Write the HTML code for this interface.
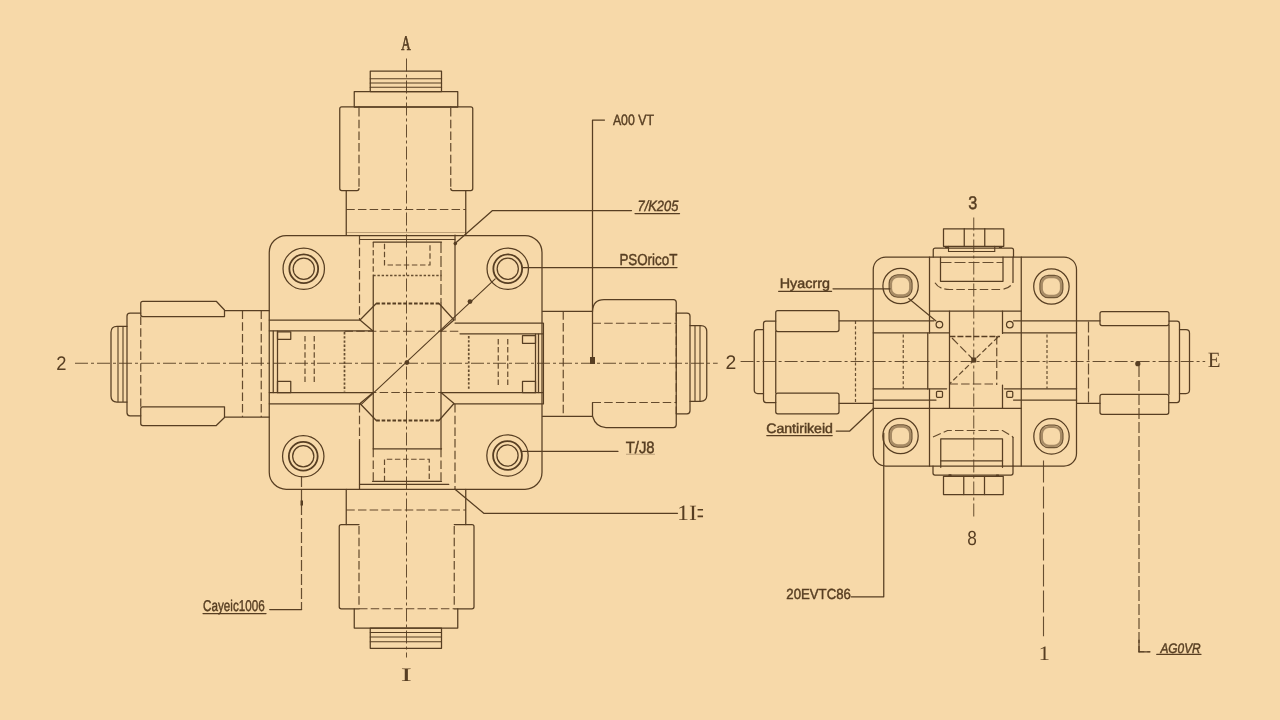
<!DOCTYPE html>
<html lang="en">
<head>
<meta charset="utf-8">
<title>Valve body – technical drawing</title>
<style>
html,body{margin:0;padding:0;background:#f7d9a9;}
body{width:1280px;height:720px;overflow:hidden;position:relative;}
svg{display:block;position:absolute;left:0;top:0;}
#labels{filter:blur(.3px);}
.s{fill:none;stroke:#573e22;stroke-width:1.25;stroke-linecap:round;stroke-linejoin:round;}
.t{fill:none;stroke:#573e22;stroke-width:1.1;stroke-linecap:round;}
.b{fill:none;stroke:#573e22;stroke-width:1.8;}
.f{fill:none;stroke:#573e22;stroke-width:.8;stroke-opacity:.45;}
.d{fill:none;stroke:#573e22;stroke-width:1.2;stroke-dasharray:8.5 3.2;stroke-opacity:.92;}
.dl{fill:none;stroke:#573e22;stroke-width:1.2;stroke-dasharray:11 3;stroke-opacity:.9;}
.dk{fill:none;stroke:#573e22;stroke-width:1.9;stroke-dasharray:3.6 1.8;}
.dot{fill:none;stroke:#573e22;stroke-width:1.7;stroke-dasharray:2.4 1.8;stroke-opacity:.9;}
.c{fill:none;stroke:#573e22;stroke-width:1;stroke-dasharray:13 3 3 3;stroke-opacity:.9;}
.ds{fill:none;stroke:#573e22;stroke-width:1.2;stroke-dasharray:5.5 2.6;stroke-opacity:.92;}
.k{fill:#573e22;stroke:none;}
.dm{fill:none;stroke:#573e22;stroke-width:1.5;stroke-dasharray:6 2;}
.dot2{fill:none;stroke:#573e22;stroke-width:1.2;stroke-dasharray:3 2.2;stroke-opacity:.9;}
.dx{fill:none;stroke:#573e22;stroke-width:1.1;stroke-dasharray:22 4;stroke-opacity:.9;}
.ring{fill:none;stroke:#573e22;stroke-width:1.3;stroke-opacity:.85;}
.ring2{fill:none;stroke:#573e22;stroke-width:2.2;stroke-opacity:.5;}
text{fill:#573e22;stroke:#573e22;stroke-width:.45;text-rendering:geometricPrecision;}
.it{font-style:italic;}
.lt{stroke-width:0;}
.bd{stroke-width:.7;}
.sans{font-family:"Liberation Sans",sans-serif;}
.serif{font-family:"Liberation Serif",serif;}
</style>
</head>
<body>
<svg width="1280" height="720" viewBox="0 0 1280 720" role="img" aria-label="Technical drawing of a valve body: plan view and side view">
<rect class="bg" x="0" y="0" width="1280" height="720" fill="#f7d9a9"/>
<g id="drawing">
<g id="left-view">
<line class="c" x1="406.5" y1="58.5" x2="406.5" y2="657.5"/>
<line class="c" x1="75" y1="363.25" x2="717.7" y2="363.25"/>
<rect class="s" x="370.25" y="71.0" width="71.25" height="20.5" rx="0"/>
<line class="t" x1="370.2" y1="78.75" x2="441.6" y2="78.75"/>
<line class="t" x1="370.2" y1="83.0" x2="441.6" y2="83.0"/>
<line class="t" x1="370.2" y1="87.25" x2="441.6" y2="87.25"/>
<rect class="s" x="354.25" y="91.5" width="103.5" height="15.5" rx="0"/>
<path class="s" d="M 359.0 106.75 H 341.75 Q 339.75 106.75 339.75 108.75 V 188.5 Q 339.75 190.5 341.75 190.5 H 357.0 Q 359.0 190.5 359.0 188.5"/>
<path class="s" d="M 450.75 106.75 H 470.75 Q 472.75 106.75 472.75 108.75 V 188.5 Q 472.75 190.5 470.75 190.5 H 452.75 Q 450.75 190.5 450.75 188.5"/>
<line class="s" x1="359" y1="106.75" x2="450.75" y2="106.75"/>
<line class="d" x1="359.0" y1="108" x2="359.0" y2="189"/>
<line class="d" x1="450.75" y1="108" x2="450.75" y2="189"/>
<line class="s" x1="346.25" y1="190.5" x2="346.25" y2="235"/>
<line class="s" x1="465.75" y1="190.5" x2="465.75" y2="235"/>
<line class="d" x1="346.25" y1="209.5" x2="465.75" y2="209.5"/>
<line class="f" x1="346.25" y1="232.5" x2="465.75" y2="232.5"/>
<rect class="s" x="269.25" y="235.5" width="272.75" height="253.75" rx="17"/>
<circle class="s" cx="303.75" cy="268.75" r="20.7"/>
<circle class="b" cx="303.75" cy="268.75" r="14.4"/>
<circle class="s" cx="303.75" cy="268.75" r="10.6"/>
<circle class="s" cx="507.75" cy="268.75" r="20.7"/>
<circle class="b" cx="507.75" cy="268.75" r="14.4"/>
<circle class="s" cx="507.75" cy="268.75" r="10.6"/>
<circle class="s" cx="303.25" cy="456.25" r="20.7"/>
<circle class="b" cx="303.25" cy="456.25" r="14.4"/>
<circle class="s" cx="303.25" cy="456.25" r="10.6"/>
<circle class="s" cx="507.5" cy="455.5" r="20.7"/>
<circle class="b" cx="507.5" cy="455.5" r="14.4"/>
<circle class="s" cx="507.5" cy="455.5" r="10.6"/>
<line class="s" x1="373.25" y1="276" x2="373.25" y2="448.75"/>
<line class="s" x1="441.0" y1="303" x2="441.0" y2="448.75"/>
<line class="ds" x1="373.25" y1="242" x2="373.25" y2="276"/>
<line class="dl" x1="441.0" y1="242" x2="441.0" y2="303"/>
<line class="t" x1="360" y1="239.5" x2="455" y2="239.5"/>
<line class="s" x1="373.25" y1="242.0" x2="441.5" y2="242.0"/>
<path class="ds" d="M 384.5 243.75 V 265.0 H 430.0 V 243.75"/>
<line class="dot" x1="373.25" y1="275.5" x2="441.5" y2="275.5"/>
<line class="d" x1="359.5" y1="236" x2="359.5" y2="320"/>
<line class="s" x1="455.0" y1="235" x2="455.0" y2="320"/>
<line class="dk" x1="376.25" y1="303.5" x2="439" y2="303.5"/>
<path class="s" d="M 376.25 303.5 L 360.0 320.0 L 373.25 331.25"/>
<path class="s" d="M 439.0 303.5 L 454.0 320.0 L 441.0 331.25"/>
<path class="s" d="M 373.25 392.5 L 360.0 403.5 L 376.25 420.5"/>
<path class="s" d="M 441.0 392.5 L 454.0 403.5 L 439.0 420.5"/>
<line class="dk" x1="376.25" y1="420.5" x2="439" y2="420.5"/>
<line class="s" x1="269.25" y1="320.0" x2="360" y2="320.0"/>
<line class="s" x1="269.25" y1="330.75" x2="373.25" y2="330.75"/>
<line class="s" x1="455" y1="323.0" x2="542.5" y2="323.0"/>
<line class="s" x1="460" y1="333.75" x2="542.5" y2="333.75"/>
<line class="s" x1="269.25" y1="392.5" x2="373.25" y2="392.5"/>
<line class="s" x1="269.25" y1="403.75" x2="360" y2="403.75"/>
<line class="s" x1="441" y1="392.5" x2="542.5" y2="392.5"/>
<line class="s" x1="454" y1="403.75" x2="542.5" y2="403.75"/>
<line class="d" x1="344.5" y1="331.25" x2="460" y2="331.25"/>
<line class="d" x1="344.5" y1="392.5" x2="468" y2="392.5"/>
<line class="dot" x1="344.5" y1="332" x2="344.5" y2="391.5"/>
<line class="dot" x1="468.75" y1="336" x2="468.75" y2="390.5"/>
<line class="s" x1="273.25" y1="331" x2="273.25" y2="392.5"/>
<line class="s" x1="277.5" y1="331" x2="277.5" y2="392.5"/>
<rect class="s" x="277.5" y="331.75" width="13.25" height="7.5" rx="0"/>
<rect class="s" x="277.5" y="381.25" width="13.25" height="11.25" rx="0"/>
<line class="s" x1="535.5" y1="334" x2="535.5" y2="392.5"/>
<line class="s" x1="538.5" y1="334" x2="538.5" y2="392.5"/>
<line class="t" x1="543.5" y1="323" x2="543.5" y2="404"/>
<rect class="s" x="522.5" y="335.5" width="13.0" height="7.75" rx="0"/>
<rect class="s" x="522.5" y="381.25" width="13.0" height="11.25" rx="0"/>
<line class="ds" x1="305.0" y1="336" x2="305.0" y2="384"/>
<line class="ds" x1="314.25" y1="336" x2="314.25" y2="384"/>
<line class="ds" x1="498.25" y1="339" x2="498.25" y2="385.5"/>
<line class="ds" x1="507.75" y1="339" x2="507.75" y2="385.5"/>
<line class="d" x1="359.5" y1="404" x2="359.5" y2="441"/>
<line class="s" x1="359.5" y1="441" x2="359.5" y2="489.25"/>
<line class="d" x1="455.0" y1="404" x2="455.0" y2="489.25"/>
<line class="s" x1="373.25" y1="448.75" x2="441.5" y2="448.75"/>
<line class="d" x1="373.25" y1="448.75" x2="373.25" y2="481.25"/>
<line class="d" x1="441.0" y1="448.75" x2="441.0" y2="481.25"/>
<path class="ds" d="M 384.5 481.25 V 459.25 H 429.25 V 481.25"/>
<line class="s" x1="372.5" y1="481.25" x2="441.5" y2="481.25"/>
<line class="s" x1="359.5" y1="484.25" x2="448.75" y2="484.25"/>
<line class="t" x1="495.2" y1="278.8" x2="361.3" y2="404.4"/>
<circle class="k" cx="470" cy="301.6" r="2.4"/>
<circle class="k" cx="406.9" cy="362.6" r="2.4"/>
<line class="s" x1="346.25" y1="489.25" x2="346.25" y2="524.5"/>
<line class="s" x1="465.75" y1="489.25" x2="465.75" y2="524.5"/>
<line class="d" x1="346.25" y1="510.0" x2="465.75" y2="510.0"/>
<path class="s" d="M 359.0 524.5 H 341.25 Q 339.25 524.5 339.25 526.5 V 606.75 Q 339.25 608.75 341.25 608.75 H 359.0"/>
<path class="s" d="M 454.25 524.5 H 472.0 Q 474.0 524.5 474.0 526.5 V 606.75 Q 474.0 608.75 472.0 608.75 H 454.25"/>
<line class="d" x1="359.0" y1="526" x2="359.0" y2="608"/>
<line class="d" x1="454.25" y1="526" x2="454.25" y2="608"/>
<line class="d" x1="359" y1="608.75" x2="454.25" y2="608.75"/>
<path class="s" d="M 354.25 608.75 V 628.0 H 457.75 V 608.75"/>
<rect class="s" x="370.25" y="628.0" width="71.25" height="20.25" rx="0"/>
<line class="t" x1="370.25" y1="632.5" x2="441.5" y2="632.5"/>
<line class="t" x1="370.25" y1="637.0" x2="441.5" y2="637.0"/>
<line class="t" x1="370.25" y1="641.75" x2="441.5" y2="641.75"/>
<path class="s" d="M 127.0 326.25 H 117.0 Q 111.0 326.25 111.0 332.25 V 396.0 Q 111.0 402.0 117.0 402.0 H 127.0"/>
<line class="t" x1="118.0" y1="326.5" x2="118.0" y2="401.5"/>
<line class="t" x1="123.0" y1="326.5" x2="123.0" y2="401.5"/>
<path class="s" d="M 140.75 313.0 H 130.0 Q 127.0 313.0 127.0 316.0 V 412.75 Q 127.0 415.75 130.0 415.75 H 140.75"/>
<path class="s" d="M 224.5 316.5 H 142.75 Q 140.75 316.5 140.75 314.5 V 303.25 Q 140.75 301.25 142.75 301.25 H 216.25 L 224.5 310.0 Z"/>
<path class="s" d="M 224.5 406.75 H 142.75 Q 140.75 406.75 140.75 408.75 V 423.5 Q 140.75 425.5 142.75 425.5 H 216.25 L 224.5 417.5 Z"/>
<line class="s" x1="224.5" y1="310.5" x2="269.25" y2="310.5"/>
<line class="s" x1="224.5" y1="417.0" x2="269.25" y2="417.0"/>
<line class="d" x1="140.75" y1="316.5" x2="140.75" y2="406.75"/>
<line class="d" x1="242.5" y1="310.5" x2="242.5" y2="417"/>
<line class="d" x1="261.25" y1="310.5" x2="261.25" y2="417"/>
<line class="s" x1="542.5" y1="311.25" x2="592.5" y2="311.25"/>
<line class="s" x1="542.5" y1="416.25" x2="592.5" y2="416.25"/>
<line class="d" x1="563.25" y1="311.25" x2="563.25" y2="416.25"/>
<path class="s" d="M 592.5 311.25 Q 593.0 299.5 604.0 299.5 H 673.5 Q 676.25 299.5 676.25 302.5 V 424.5 Q 676.25 427.5 673.5 427.5 H 606.0 Q 596.0 427.5 592.5 416.25 V 402.5"/>
<line class="d" x1="592.5" y1="323.25" x2="676.25" y2="323.25"/>
<line class="d" x1="592.5" y1="402.5" x2="676.25" y2="402.5"/>
<line class="d" x1="676.25" y1="313" x2="676.25" y2="413.75"/>
<path class="s" d="M 676.25 313.0 H 687.0 Q 690.0 313.0 690.0 316.0 V 410.75 Q 690.0 413.75 687.0 413.75 H 676.25"/>
<path class="s" d="M 690.0 325.5 H 700.75 Q 706.75 325.5 706.75 331.5 V 395.25 Q 706.75 401.25 700.75 401.25 H 690.0"/>
<line class="t" x1="695.0" y1="326" x2="695.0" y2="401"/>
<line class="t" x1="700.0" y1="326" x2="700.0" y2="401"/>
<path class="s" d="M 604.5 120.0 H 592.5 V 357.0"/>
<rect class="k" x="590.0" y="357.0" width="5.0" height="7.0" rx="0"/>
<path class="s" d="M 455.0 243.5 L 492.5 210.5 H 631.5"/>
<circle class="k" cx="455.3" cy="243.6" r="1.8"/>
<line class="s" x1="523" y1="267.5" x2="677" y2="267.5"/>
<line class="s" x1="635" y1="213.5" x2="679.5" y2="213.5"/>
<line class="s" x1="522.5" y1="451.25" x2="618" y2="451.25"/>
<line class="f" x1="626" y1="454.25" x2="655" y2="454.25"/>
<path class="s" d="M 455.0 489.25 L 483.75 513.25 H 677.5"/>
<line class="dl" x1="301.5" y1="476" x2="301.5" y2="609.4"/>
<rect class="k" x="300.5" y="500.5" width="2.5" height="5.0" rx="0"/>
<line class="s" x1="269.7" y1="609.5" x2="301.6" y2="609.5"/>
<line class="s" x1="203" y1="613.5" x2="266" y2="613.5"/>
</g>
<g id="right-view">
<line class="c" x1="973.75" y1="217.5" x2="973.75" y2="518.75"/>
<line class="c" x1="740.6" y1="361.5" x2="1205.2" y2="361.5"/>
<rect class="s" x="943.5" y="228.75" width="60.25" height="17.5" rx="0"/>
<line class="s" x1="964.25" y1="228.7" x2="964.25" y2="246.2"/>
<line class="s" x1="984.75" y1="228.7" x2="984.75" y2="246.2"/>
<path class="s" d="M 933.25 257.0 V 250.0 Q 933.25 248.0 935.25 248.0 H 1011.5 Q 1013.5 248.0 1013.5 250.0 V 257.0"/>
<path class="t" d="M 948.5 246.25 V 251.5 H 994.75 V 246.25"/>
<rect class="s" x="873.25" y="257.0" width="203.25" height="209.0" rx="12.5"/>
<line class="s" x1="929.5" y1="257" x2="929.5" y2="333"/>
<line class="s" x1="927.75" y1="333" x2="927.75" y2="389"/>
<line class="s" x1="929.5" y1="389" x2="929.5" y2="466"/>
<line class="s" x1="1021.25" y1="257" x2="1021.25" y2="466"/>
<path class="s" d="M 940.5 257.0 V 281.25 H 1003.0 V 257.0"/>
<line class="dl" x1="940.5" y1="262.5" x2="1003" y2="262.5"/>
<line class="s" x1="1013.0" y1="257" x2="1013.0" y2="282"/>
<path class="d" d="M 935.0 282.75 Q 939.0 289.5 950.0 289.5 H 999.0 Q 1010.0 289.5 1013.0 282.0"/>
<circle class="s" cx="900.6" cy="286" r="17.7"/>
<rect class="ring" x="889.2" y="274.8" width="22.8" height="22.4" rx="8.5"/>
<rect class="ring2" x="891.0" y="276.6" width="19.2" height="18.8" rx="7"/>
<circle class="s" cx="1051.4" cy="286.5" r="17.7"/>
<rect class="ring" x="1040.0" y="275.3" width="22.8" height="22.4" rx="8.5"/>
<rect class="ring2" x="1041.8000000000002" y="277.1" width="19.2" height="18.8" rx="7"/>
<circle class="s" cx="900.5" cy="436" r="17.7"/>
<rect class="ring" x="889.1" y="424.8" width="22.8" height="22.4" rx="8.5"/>
<rect class="ring2" x="890.9" y="426.6" width="19.2" height="18.8" rx="7"/>
<circle class="s" cx="1051.5" cy="436.4" r="17.7"/>
<rect class="ring" x="1040.1" y="425.2" width="22.8" height="22.4" rx="8.5"/>
<rect class="ring2" x="1041.9" y="427.0" width="19.2" height="18.8" rx="7"/>
<line class="s" x1="929.5" y1="311.0" x2="1021.2" y2="311.0"/>
<line class="s" x1="949.5" y1="311.1" x2="949.5" y2="408.2"/>
<line class="s" x1="1002.5" y1="311.1" x2="1002.5" y2="333.4"/>
<line class="s" x1="1002.5" y1="385" x2="1002.5" y2="408.2"/>
<line class="d" x1="996.75" y1="336" x2="996.75" y2="385"/>
<line class="s" x1="839" y1="320.75" x2="934" y2="320.75"/>
<line class="s" x1="1013.5" y1="320.75" x2="1100" y2="320.75"/>
<line class="s" x1="873.2" y1="332.75" x2="949.4" y2="332.75"/>
<line class="s" x1="1002.6" y1="332.75" x2="1076.6" y2="332.75"/>
<line class="s" x1="873.2" y1="388.75" x2="946.6" y2="388.75"/>
<line class="s" x1="1004.4" y1="388.75" x2="1076.6" y2="388.75"/>
<line class="s" x1="873.2" y1="400.0" x2="936" y2="400.0"/>
<line class="s" x1="1013.5" y1="400.0" x2="1076.6" y2="400.0"/>
<line class="s" x1="873.2" y1="408.25" x2="1021.2" y2="408.25"/>
<circle class="s" cx="939.4" cy="324.6" r="3.3"/>
<circle class="s" cx="1009.8" cy="324.6" r="3.3"/>
<rect class="s" x="936.5" y="391.25" width="6.0" height="6.0" rx="1"/>
<rect class="s" x="1006.75" y="391.25" width="6.0" height="6.0" rx="1"/>
<line class="dm" x1="949.4" y1="336.5" x2="1000" y2="336.5"/>
<line class="d" x1="949.4" y1="384.0" x2="997" y2="384.0"/>
<line class="ds" x1="998" y1="337" x2="949.4" y2="384"/>
<line class="d" x1="952" y1="338" x2="973.7" y2="360"/>
<rect class="k" x="971.25" y="357.5" width="5.0" height="5.0" rx="0.8"/>
<line class="dot2" x1="903.25" y1="334.5" x2="903.25" y2="388.5"/>
<line class="dot2" x1="1047.0" y1="334.5" x2="1047.0" y2="388.5"/>
<line class="dot2" x1="855.5" y1="321" x2="855.5" y2="403.3"/>
<line class="dl" x1="1088.5" y1="321.5" x2="1088.5" y2="403.3"/>
<path class="s" d="M 940.75 467.25 V 438.75 H 1002.5 V 467.25"/>
<line class="s" x1="940.7" y1="460.75" x2="1002.6" y2="460.75"/>
<path class="d" d="M 933.0 437.0 L 947.5 430.5 H 1002.5 L 1013.0 437.0"/>
<line class="s" x1="1013.0" y1="437.3" x2="1013.0" y2="466"/>
<path class="s" d="M 933.0 466.0 V 473.0 Q 933.0 475.0 935.0 475.0 H 1011.0 Q 1013.0 475.0 1013.0 473.0 V 466.0"/>
<rect class="s" x="943.5" y="476.25" width="59.75" height="18.25" rx="0"/>
<line class="s" x1="963.75" y1="476.3" x2="963.75" y2="494.5"/>
<line class="s" x1="984.5" y1="476.3" x2="984.5" y2="494.5"/>
<rect class="k" x="944.9" y="246.2" width="3.2" height="2" rx=".6"/>
<rect class="k" x="998.9" y="246" width="3.2" height="2" rx=".6"/>
<rect class="k" x="948.4" y="474.3" width="3.2" height="2" rx=".6"/>
<rect class="k" x="995.9" y="474.6" width="3.2" height="2" rx=".6"/>
<path class="s" d="M 763.5 329.5 H 757.75 Q 754.25 329.5 754.25 333.0 V 390.0 Q 754.25 393.5 757.75 393.5 H 763.5"/>
<path class="s" d="M 775.75 321.0 H 766.0 Q 763.5 321.0 763.5 323.5 V 399.75 Q 763.5 402.5 766.0 402.5 H 775.75"/>
<rect class="s" x="775.75" y="310.5" width="63.25" height="21.0" rx="2"/>
<rect class="s" x="775.75" y="393.0" width="63.25" height="20.75" rx="2"/>
<line class="s" x1="775.75" y1="331.4" x2="775.75" y2="393"/>
<line class="s" x1="839" y1="403.25" x2="873.2" y2="403.25"/>
<rect class="s" x="1100.0" y="311.5" width="69.0" height="14.0" rx="2"/>
<rect class="s" x="1100.0" y="394.25" width="68.75" height="20.0" rx="2"/>
<line class="s" x1="1076.6" y1="403.25" x2="1100.1" y2="403.25"/>
<line class="s" x1="1169.0" y1="325.4" x2="1169.0" y2="394.3"/>
<path class="s" d="M 1169.0 321.0 H 1177.0 Q 1179.5 321.0 1179.5 323.75 V 399.75 Q 1179.5 402.5 1177.0 402.5 H 1169.0"/>
<path class="s" d="M 1179.5 329.5 H 1186.0 Q 1189.5 329.5 1189.5 333.0 V 390.0 Q 1189.5 393.5 1186.0 393.5 H 1179.5"/>
<line class="s" x1="833" y1="288.75" x2="890" y2="288.75"/>
<line class="s" x1="778.6" y1="291.25" x2="831.6" y2="291.25"/>
<line class="t" x1="908.7" y1="298.5" x2="936" y2="321"/>
<path class="s" d="M 836.25 431.0 H 849.75 L 873.25 408.75"/>
<line class="s" x1="766.8" y1="435.5" x2="832.2" y2="435.5"/>
<path class="s" d="M 883.75 433.0 V 596.75 H 851.25"/>
<line class="dx" x1="1043.5" y1="460.6" x2="1043.5" y2="636.25"/>
<path class="dl" d="M 1139.0 366.0 V 651.75 H 1150.0"/>
<line class="s" x1="1139.0" y1="640" x2="1139.0" y2="651.75"/>
<line class="s" x1="1138.9" y1="651.75" x2="1150" y2="651.75"/>
<circle class="k" cx="1137.8" cy="363.7" r="2.6"/>
<line class="s" x1="1156.7" y1="654.25" x2="1201" y2="654.25"/>
</g>
<g id="labels">
<text class="serif bd" x="401.13" y="50.0" font-size="20.7" text-anchor="start" textLength="9.47" lengthAdjust="spacingAndGlyphs">A</text>
<text class="serif lt" x="400.88" y="681.3" font-size="19.2" text-anchor="start" textLength="11.09" lengthAdjust="spacingAndGlyphs">I</text>
<text class="sans lt" x="56.27" y="370.1" font-size="19.6" text-anchor="start" textLength="10.21" lengthAdjust="spacingAndGlyphs">2</text>
<text class="sans lt" x="725.51" y="368.9" font-size="19.7" text-anchor="start" textLength="10.78" lengthAdjust="spacingAndGlyphs">2</text>
<text class="sans" x="968.37" y="209.3" font-size="18.4" text-anchor="start" textLength="9.04" lengthAdjust="spacingAndGlyphs">3</text>
<text class="sans lt" x="967.25" y="545.1" font-size="20.4" text-anchor="start" textLength="9.59" lengthAdjust="spacingAndGlyphs">8</text>
<text class="serif lt" x="1207.74" y="367.4" font-size="21.9" text-anchor="start" textLength="12.81" lengthAdjust="spacingAndGlyphs">E</text>
<text class="serif lt" x="1038.63" y="660.3" font-size="20.5" text-anchor="start" textLength="11.45" lengthAdjust="spacingAndGlyphs">1</text>
<text class="serif lt" x="677.1" y="519.9" font-size="21.9" text-anchor="start" textLength="20.0" lengthAdjust="spacingAndGlyphs">1I</text>
<text class="serif lt" x="696.9" y="523.8" font-size="33" text-anchor="start" textLength="6.6" lengthAdjust="spacingAndGlyphs">=</text>
<text class="sans" x="612.9" y="124.7" font-size="15.07" text-anchor="start" textLength="41.08" lengthAdjust="spacingAndGlyphs">A00 VT</text>
<text class="sans it" x="637.59" y="211.2" font-size="14.9" text-anchor="start" textLength="40.7" lengthAdjust="spacingAndGlyphs">7/K205</text>
<text class="sans" x="619.38" y="264.7" font-size="15.9" text-anchor="start" textLength="57.96" lengthAdjust="spacingAndGlyphs">PSOricoT</text>
<text class="sans" x="625.63" y="452.8" font-size="16.5" text-anchor="start" textLength="29.0" lengthAdjust="spacingAndGlyphs">T/J8</text>
<text class="sans" x="203.1" y="611.4" font-size="15.6" text-anchor="start" textLength="61.54" lengthAdjust="spacingAndGlyphs">Cayeic1006</text>
<text class="sans" x="779.75" y="287.8" font-size="13.9" text-anchor="start" textLength="50.15" lengthAdjust="spacingAndGlyphs">Hyacrrg</text>
<text class="sans" x="766.18" y="433.2" font-size="13.7" text-anchor="start" textLength="66.81" lengthAdjust="spacingAndGlyphs">Cantirikeid</text>
<text class="sans" x="786.32" y="599.2" font-size="14.6" text-anchor="start" textLength="64.57" lengthAdjust="spacingAndGlyphs">20EVTC86</text>
<text class="sans it" x="1160.41" y="652.9" font-size="13.8" text-anchor="start" textLength="40.3" lengthAdjust="spacingAndGlyphs">AG0VR</text>
</g>
</g>
</svg>
</body>
</html>
